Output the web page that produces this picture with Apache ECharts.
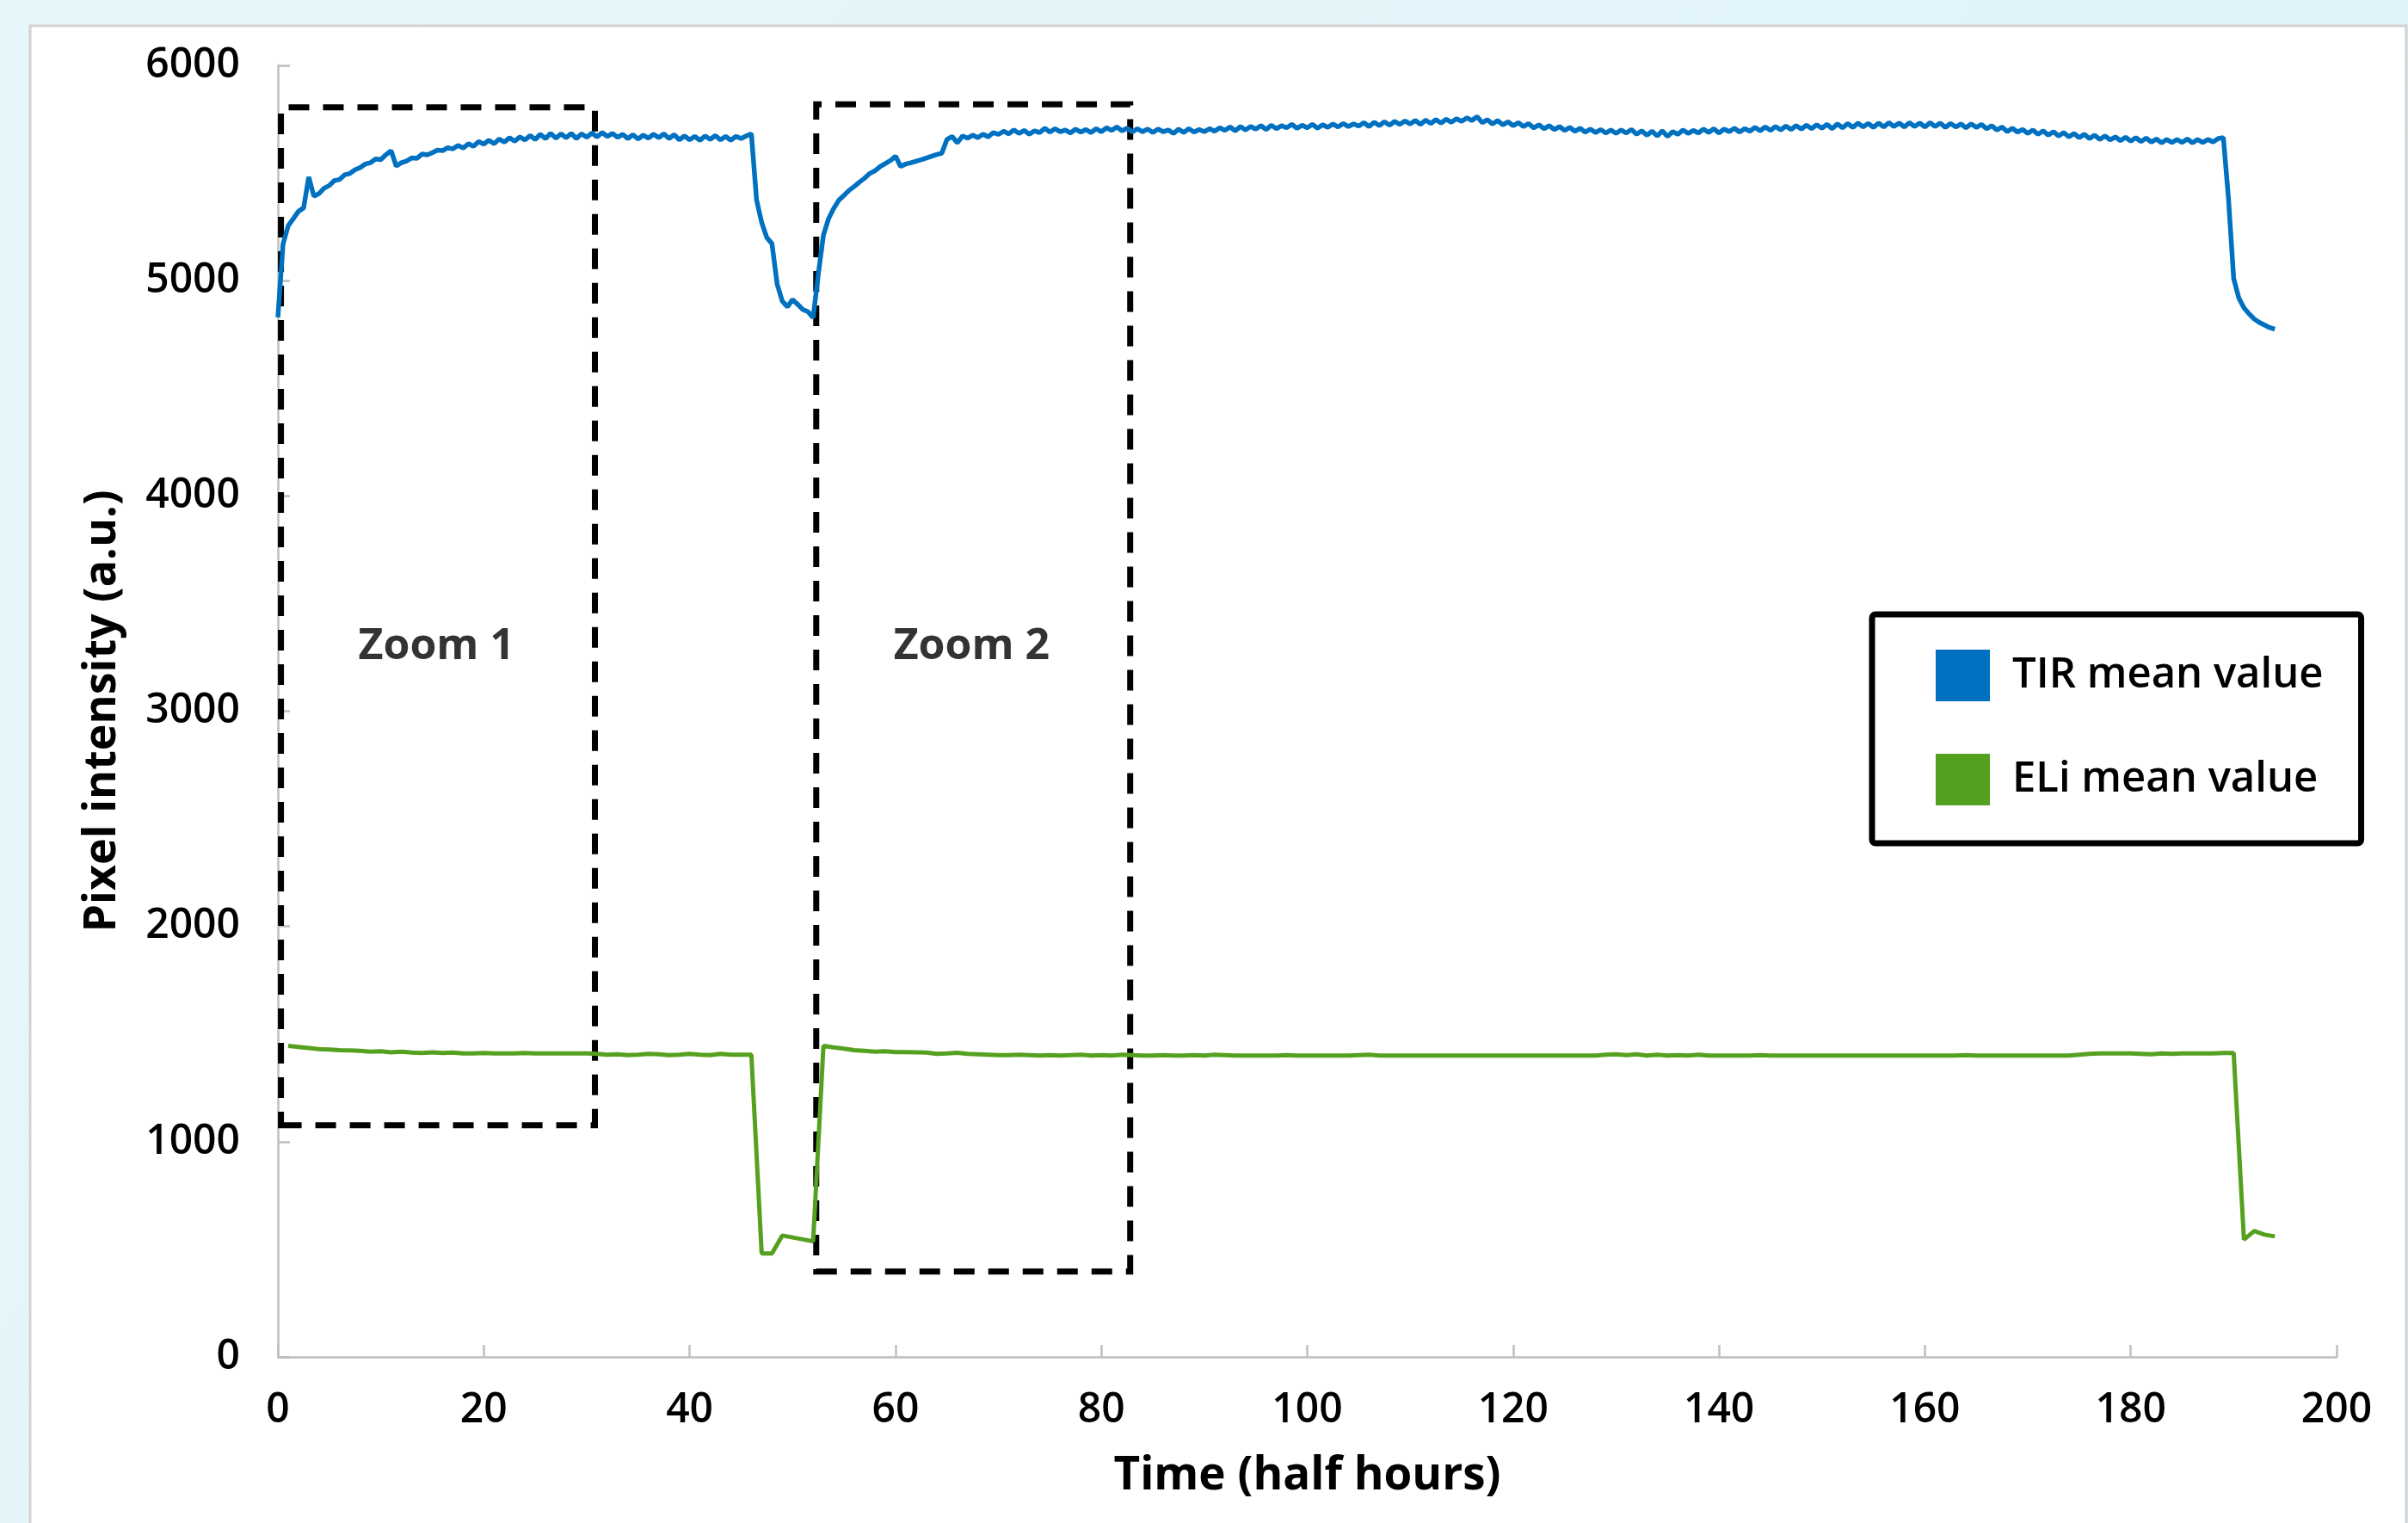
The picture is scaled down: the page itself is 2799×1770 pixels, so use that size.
<!DOCTYPE html>
<html><head><meta charset="utf-8">
<script src="https://cdn.jsdelivr.net/npm/echarts@6/dist/echarts.min.js"></script>
<style>html,body{margin:0;padding:0;width:2799px;height:1770px;overflow:hidden;}#c{width:2799px;height:1770px;}</style>
</head><body><div id="c"></div>
<script>
// ---- data ----
const seriesNames = ['TIR mean value', 'ELi mean value'];
// TIR mean value, sampled every 0.5 half-hour starting at t = 0
const tirStart = 0, tirStep = 0.5;
const tirValues = [
4830,5170,5255,5288,5322,5338,5482,5392,5405,5430,
5442,5465,5470,5492,5498,5515,5525,5542,5548,5565,
5562,5585,5604,5532,5548,5556,5570,5568,5588,5584,
5594,5606,5604,5618,5612,5628,5616,5636,5624,5646,
5634,5652,5636,5658,5644,5664,5648,5668,5654,5674,
5656,5680,5660,5684,5662,5682,5664,5684,5660,5682,
5666,5686,5668,5688,5670,5684,5666,5680,5660,5678,
5658,5676,5662,5680,5664,5682,5660,5678,5654,5672,
5654,5670,5652,5672,5656,5674,5654,5670,5652,5670,
5660,5672,5682,5376,5270,5200,5172,4985,4905,4878,
4912,4890,4866,4856,4828,5030,5212,5288,5336,5374,
5396,5420,5438,5458,5476,5498,5510,5530,5544,5558,
5578,5530,5542,5548,5555,5562,5570,5578,5586,5592,
5656,5670,5640,5672,5662,5676,5664,5680,5668,5688,
5680,5694,5682,5700,5684,5698,5680,5696,5688,5708,
5690,5706,5692,5700,5686,5704,5690,5702,5688,5706,
5692,5710,5698,5714,5696,5708,5690,5706,5692,5704,
5688,5704,5692,5700,5684,5704,5688,5706,5690,5702,
5692,5706,5694,5710,5698,5714,5696,5716,5700,5716,
5704,5720,5702,5722,5706,5720,5710,5726,5708,5722,
5710,5726,5708,5724,5712,5728,5714,5730,5716,5728,
5718,5734,5716,5736,5720,5738,5722,5740,5726,5742,
5728,5744,5726,5746,5730,5748,5732,5750,5736,5752,
5740,5756,5744,5762,5734,5748,5728,5744,5724,5738,
5720,5734,5716,5730,5710,5724,5706,5720,5702,5716,
5698,5712,5694,5708,5690,5704,5688,5702,5686,5700,
5684,5700,5686,5702,5680,5696,5676,5694,5672,5696,
5670,5692,5680,5700,5684,5698,5686,5704,5688,5706,
5686,5704,5692,5708,5690,5706,5694,5712,5696,5714,
5698,5716,5700,5718,5702,5720,5704,5722,5706,5724,
5708,5726,5706,5728,5710,5730,5712,5732,5714,5730,
5712,5732,5714,5734,5716,5732,5714,5734,5716,5732,
5714,5734,5716,5732,5712,5730,5714,5728,5710,5728,
5712,5726,5706,5720,5700,5714,5692,5708,5690,5702,
5684,5700,5680,5696,5676,5692,5672,5688,5668,5684,
5664,5680,5660,5676,5656,5672,5654,5668,5650,5666,
5648,5664,5646,5662,5644,5658,5640,5656,5642,5656,
5642,5658,5640,5656,5642,5656,5644,5660,5664,5380,
5010,4920,4874,4846,4822,4806,4794,4782,4774
];
// ELi mean value, sampled every half-hour starting at t = 1
const eliStart = 1, eliStep = 1;
const eliValues = [
1445,1440,1435,1430,1428,1425,1424,1422,1418,1420,
1415,1418,1414,1412,1415,1412,1414,1410,1410,1412,
1410,1410,1410,1412,1410,1410,1410,1410,1410,1410,
1408,1404,1406,1402,1404,1408,1406,1402,1404,1408,
1404,1402,1408,1404,1404,1404,481,481,564,555,
546,537,1445,1438,1432,1425,1422,1418,1420,1416,
1416,1415,1414,1408,1410,1413,1408,1406,1404,1402,
1402,1404,1402,1400,1402,1400,1402,1404,1400,1402,
1400,1404,1402,1400,1400,1402,1400,1400,1402,1400,
1404,1402,1400,1400,1400,1400,1400,1402,1400,1400,
1400,1400,1400,1400,1402,1404,1400,1400,1400,1400,
1400,1400,1400,1400,1400,1400,1400,1400,1400,1400,
1400,1400,1400,1400,1400,1400,1400,1400,1404,1406,
1402,1406,1400,1404,1400,1402,1400,1404,1400,1400,
1400,1400,1400,1402,1400,1400,1400,1400,1400,1400,
1400,1400,1400,1400,1400,1400,1400,1400,1400,1400,
1400,1400,1400,1402,1400,1400,1400,1400,1400,1400,
1400,1400,1400,1400,1404,1408,1410,1410,1410,1410,
1408,1406,1410,1408,1410,1410,1410,1410,1412,1412,
545,585,568,560
];
// Dashed "zoom" boxes and their labels
const zoomNames = ['Zoom 1', 'Zoom 2'];
const zoomX0 = [0.3, 52.3];
const zoomX1 = [30.8, 82.8];
const zoomY0 = [1076, 397];
const zoomY1 = [5805, 5819];
const zoomLabelX = [15.4, 67.4];
const zoomLabelY = [3300, 3300];
// Axes
const xAxisName = 'Time (half hours)';
const yAxisName = 'Pixel intensity (a.u.)';
const xMin = 0, xMax = 200, xInterval = 20;
const yMin = 0, yMax = 6000, yInterval = 1000;

// ---- chart ----
const FONT = "'Open Sans', 'Noto Sans', sans-serif";
const tirData = tirValues.map((v, i) => [tirStart + i * tirStep, v]);
const eliData = eliValues.map((v, i) => [eliStart + i * eliStep, v]);
const boxData = zoomNames.map((n, i) => [
  { xAxis: zoomX0[i], yAxis: zoomY0[i] },
  { xAxis: zoomX1[i], yAxis: zoomY1[i] }
]);
const labelData = zoomNames.map((n, i) => ({ name: n, value: [zoomLabelX[i], zoomLabelY[i]] }));

const chart = echarts.init(document.getElementById('c'), null, { renderer: 'canvas' });
chart.setOption({
  animation: false,
  backgroundColor: {
    type: 'linear', x: 0, y: 0, x2: 1, y2: 1,
    colorStops: [{ offset: 0, color: '#e8f7fb' }, { offset: 1, color: '#dcf2f7' }]
  },
  graphic: [{
    type: 'rect', z: -10, silent: true,
    shape: { x: 35, y: 30, width: 2762, height: 1760 },
    style: { fill: '#ffffff', stroke: '#d2d2d2', lineWidth: 3 }
  }],
  grid: { left: 323, right: 83, top: 76, bottom: 193, containLabel: false },
  xAxis: {
    type: 'value', min: xMin, max: xMax, interval: xInterval,
    name: xAxisName, nameLocation: 'middle', nameGap: 112,
    nameTextStyle: { fontFamily: FONT, fontSize: 53, fontWeight: 'bold', color: '#000' },
    axisLine: { show: true, lineStyle: { color: '#bfbfbf', width: 2.5 } },
    axisTick: { show: true, inside: true, length: 14, lineStyle: { color: '#bfbfbf', width: 2.5 } },
    axisLabel: { margin: 38, fontFamily: FONT, fontSize: 48, fontWeight: 600, color: '#000', formatter: v => String(v) },
    splitLine: { show: false }
  },
  yAxis: {
    type: 'value', min: yMin, max: yMax, interval: yInterval,
    name: yAxisName, nameLocation: 'middle', nameGap: 178, nameRotate: 90,
    nameTextStyle: { fontFamily: FONT, fontSize: 52, fontWeight: 'bold', color: '#000' },
    axisLine: { show: true, lineStyle: { color: '#bfbfbf', width: 2.5 } },
    axisTick: { show: true, inside: true, length: 14, lineStyle: { color: '#bfbfbf', width: 2.5 } },
    axisLabel: { margin: 44, fontFamily: FONT, fontSize: 48, fontWeight: 600, color: '#000', formatter: v => String(v) },
    splitLine: { show: false }
  },
  legend: {
    orient: 'vertical', left: 2176, top: 714,
    itemWidth: 63, itemHeight: 60, itemGap: 61,
    borderColor: '#000', borderWidth: 7, borderRadius: 4,
    padding: [41, 44, 44, 74],
    backgroundColor: '#fff',
    itemStyle: { borderWidth: 0 },
    textStyle: { fontFamily: FONT, fontSize: 49, fontWeight: 600, color: '#000', padding: [0, 0, 0, 21] },
    data: [{ name: seriesNames[0], icon: 'rect' }, { name: seriesNames[1], icon: 'rect' }]
  },
  series: [
    {
      name: seriesNames[0], type: 'line', data: tirData, showSymbol: false, symbol: 'none',
      color: '#0070c0', lineStyle: { color: '#0070c0', width: 5.5 }, z: 2
    },
    {
      name: seriesNames[1], type: 'line', data: eliData, showSymbol: false, symbol: 'none',
      color: '#55a11f', lineStyle: { color: '#55a11f', width: 5 }, z: 2
    },
    {
      name: 'zoomBoxes', type: 'line', data: [], z: 5, silent: true,
      markArea: {
        silent: true,
        itemStyle: { color: 'rgba(0,0,0,0)', borderColor: '#000', borderWidth: 7, borderType: [24, 16] },
        label: { show: false },
        data: boxData
      }
    },
    {
      name: 'zoomLabels', type: 'scatter', data: labelData, symbolSize: 1, z: 6, silent: true,
      itemStyle: { color: 'rgba(0,0,0,0)' },
      label: { show: true, position: 'inside', formatter: '{b}', fontFamily: FONT, fontSize: 50, fontWeight: 'bold', color: '#000' }
    }
  ]
});
</script></body></html>
